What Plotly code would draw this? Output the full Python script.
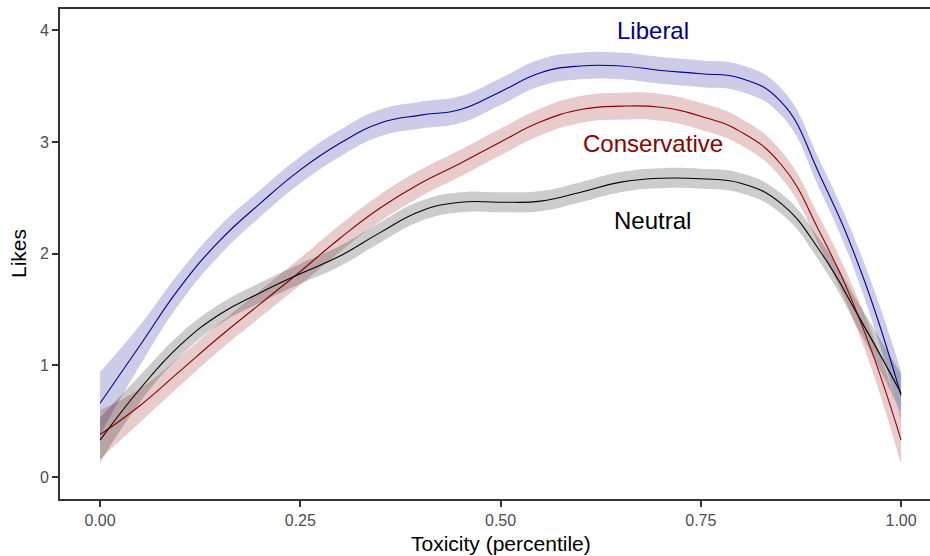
import plotly.graph_objects as go

toxicity = [0.00, 0.05, 0.10, 0.15, 0.20, 0.25, 0.30, 0.35, 0.40, 0.45, 0.50,
            0.55, 0.60, 0.65, 0.70, 0.75, 0.80, 0.85, 0.90, 0.95, 1.00]

liberal = [0.66, 1.18, 1.70, 2.12, 2.45, 2.75, 2.99, 3.17, 3.24, 3.29, 3.45,
           3.62, 3.68, 3.68, 3.64, 3.61, 3.57, 3.36, 2.68, 1.84, 0.73]
liberal_se = [0.28, 0.18, 0.14, 0.13, 0.12, 0.12, 0.12, 0.12, 0.12, 0.12, 0.12,
              0.12, 0.12, 0.12, 0.12, 0.12, 0.12, 0.12, 0.13, 0.15, 0.22]

conservative = [0.38, 0.64, 0.95, 1.26, 1.55, 1.84, 2.14, 2.41, 2.63, 2.81, 3.00,
                3.18, 3.29, 3.32, 3.31, 3.23, 3.09, 2.80, 2.17, 1.38, 0.33]
conservative_se = [0.22, 0.15, 0.13, 0.12, 0.12, 0.12, 0.12, 0.12, 0.12, 0.12, 0.12,
                   0.12, 0.12, 0.12, 0.12, 0.12, 0.12, 0.12, 0.13, 0.15, 0.22]

neutral = [0.33, 0.79, 1.18, 1.46, 1.65, 1.82, 1.98, 2.19, 2.38, 2.46, 2.46,
           2.47, 2.55, 2.64, 2.675, 2.67, 2.63, 2.45, 2.01, 1.40, 0.75]
neutral_se = [0.20, 0.12, 0.10, 0.09, 0.09, 0.09, 0.09, 0.09, 0.09, 0.09, 0.09,
              0.09, 0.09, 0.09, 0.09, 0.09, 0.09, 0.09, 0.10, 0.12, 0.17]

groups = [
    ("Liberal", liberal, liberal_se, "#00008B", "rgba(0,0,139,0.2)", 0.69, 4.00),
    ("Conservative", conservative, conservative_se, "#8B0000", "rgba(139,0,0,0.2)", 0.69, 2.99),
    ("Neutral", neutral, neutral_se, "#000000", "rgba(0,0,0,0.2)", 0.69, 2.30),
]

FONT = "Liberation Sans, Arial, sans-serif"

fig = go.Figure()
for name, vals, se, col, fill, lx, ly in groups:
    upper = [v + s for v, s in zip(vals, se)]
    lower = [v - s for v, s in zip(vals, se)]
    fig.add_trace(go.Scatter(x=toxicity, y=upper, mode="lines",
                             line=dict(width=0, shape="spline", smoothing=1.3),
                             hoverinfo="skip", showlegend=False))
    fig.add_trace(go.Scatter(x=toxicity, y=lower, mode="lines", fill="tonexty",
                             fillcolor=fill,
                             line=dict(width=0, shape="spline", smoothing=1.3),
                             hoverinfo="skip", showlegend=False))
for name, vals, se, col, fill, lx, ly in groups:
    fig.add_trace(go.Scatter(x=toxicity, y=vals, mode="lines", name=name,
                             line=dict(color=col, width=1.1, shape="spline", smoothing=1.3),
                             showlegend=False))
    fig.add_annotation(x=lx, y=ly, text=name, showarrow=False,
                       font=dict(family=FONT, size=24, color=col),
                       xanchor="center", yanchor="middle")

# axis titles
fig.add_annotation(x=0.5, xref="x", y=0, yref="paper", yshift=-44,
                   text="Toxicity (percentile)", showarrow=False,
                   font=dict(family=FONT, size=21, color="#000000"),
                   xanchor="center", yanchor="middle")
fig.add_annotation(x=0, xref="paper", xshift=-42, y=0.5, yref="paper",
                   text="Likes", textangle=-90, showarrow=False,
                   font=dict(family=FONT, size=21, color="#000000"),
                   xanchor="center", yanchor="middle")

x_ticks = [0.0, 0.25, 0.5, 0.75, 1.0]
x_ticklabels = ["0.00", "0.25", "0.50", "0.75", "1.00"]
y_ticks = [0, 1, 2, 3, 4]
y_ticklabels = ["0", "1", "2", "3", "4"]

fig.update_layout(
    width=930, height=556,
    margin=dict(l=60, r=0, t=9, b=57, autoexpand=False),
    paper_bgcolor="white", plot_bgcolor="white",
    font=dict(family=FONT, color="#000000"),
    xaxis=dict(range=[-0.05, 1.0361], tickvals=x_ticks, ticktext=x_ticklabels,
               automargin=False,
               showgrid=False, zeroline=False, showline=True, linecolor="#333333",
               linewidth=1.8, mirror=True, ticks="outside", ticklen=6, tickwidth=1.8,
               tickcolor="#333333", tickfont=dict(size=16, color="#4D4D4D")),
    yaxis=dict(range=[-0.197, 4.19], tickvals=y_ticks, ticktext=y_ticklabels,
               automargin=False,
               showgrid=False, zeroline=False, showline=True, linecolor="#333333",
               linewidth=1.8, ticks="outside", ticklen=6, tickwidth=1.8,
               tickcolor="#333333", tickfont=dict(size=16, color="#4D4D4D")),
)

fig.write_html("out.html", config={"displayModeBar": False},
               post_script="document.body.style.margin='0';document.body.style.overflow='hidden';")
